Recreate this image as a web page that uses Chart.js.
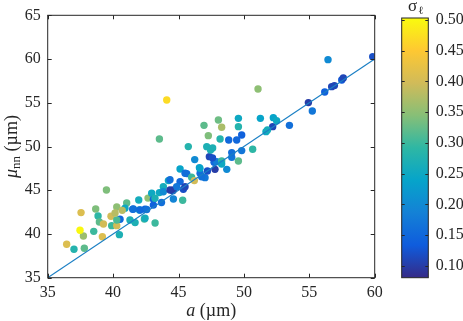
<!DOCTYPE html>
<html>
<head>
<meta charset="utf-8">
<script src="https://cdn.jsdelivr.net/npm/chart.js@4"></script>
<style>
  html, body { margin: 0; padding: 0; background: #fff; }
  #wrap { width: 463px; height: 321px; }
</style>
</head>
<body>
<div id="wrap"><canvas id="myChart" width="463" height="321"></canvas></div>
<script>
// a (um), mu_nn (um), sigma_l for each particle
const aVals = [36.45, 37.01, 37.80, 37.73, 37.47, 37.55, 38.52, 38.67, 38.85, 38.95,
  39.18, 39.26, 39.49, 39.84, 39.89, 40.28, 40.28, 40.48, 40.53, 40.28,
  40.15, 41.04, 40.91, 41.29, 41.50, 41.68, 41.96, 42.01, 42.39, 42.44,
  42.67, 42.95, 43.21, 43.08, 43.54, 43.54, 43.70, 43.84, 44.10, 44.23,
  44.35, 44.56, 44.61, 45.12, 45.12, 45.32, 45.37, 45.63, 45.75, 46.00,
  46.21, 46.24, 46.60, 46.65, 46.95, 47.03, 47.16, 47.21, 47.28, 47.36,
  47.45, 47.61, 47.72, 47.79, 47.92, 48.05, 48.18, 48.30, 48.30, 48.69,
  48.84, 49.07, 49.07, 49.45, 49.58, 49.58, 49.58, 49.83, 49.83, 50.67,
  51.08, 51.26, 51.69, 52.20, 52.25, 52.50, 53.48, 54.93, 55.23, 56.18,
  56.43, 56.71, 56.92, 57.48, 57.60, 59.85, 43.84, 44.60, 41.55, 42.06,
  42.57, 43.08, 42.44, 45.50, 46.64, 46.77, 48.30, 44.86, 45.50, 44.35,
  40.70, 47.60, 51.80, 43.20];
const muVals = [38.82, 38.25, 38.36, 39.77, 40.42, 42.44, 40.30, 42.86, 42.06, 41.37,
  39.69, 41.14, 45.03, 42.02, 40.95, 43.09, 40.95, 39.92, 41.68, 41.60,
  42.40, 43.55, 42.95, 41.60, 42.82, 41.30, 43.89, 42.74, 41.71, 42.82,
  44.10, 44.65, 41.26, 43.96, 50.86, 44.73, 43.60, 45.41, 55.32, 46.10,
  46.20, 44.95, 44.00, 45.98, 47.43, 43.85, 45.10, 46.90, 49.99, 46.48,
  46.10, 48.50, 47.58, 46.94, 52.42, 46.44, 49.98, 47.20, 51.24, 48.84,
  49.60, 49.83, 48.20, 47.39, 48.27, 53.03, 50.86, 52.20, 48.35, 47.39,
  50.75, 48.76, 49.30, 50.75, 53.22, 52.27, 48.35, 51.31, 49.53, 49.68,
  56.58, 53.22, 51.70, 52.27, 53.30, 52.95, 52.42, 55.02, 54.06, 56.23,
  59.93, 56.84, 56.96, 57.61, 57.84, 60.27, 44.83, 45.03, 42.86, 42.74,
  42.80, 43.30, 41.80, 46.94, 47.50, 46.55, 48.00, 45.40, 45.40, 45.03,
  42.70, 48.70, 51.90, 44.08];
const sigVals = [0.41, 0.28, 0.32, 0.36, 0.50, 0.41, 0.30, 0.34, 0.29, 0.32,
  0.41, 0.40, 0.34, 0.40, 0.30, 0.35, 0.40, 0.27, 0.15, 0.31,
  0.38, 0.32, 0.25, 0.27, 0.15, 0.27, 0.26, 0.25, 0.30, 0.14,
  0.35, 0.25, 0.30, 0.14, 0.32, 0.25, 0.16, 0.26, 0.47, 0.25,
  0.16, 0.12, 0.19, 0.15, 0.24, 0.30, 0.12, 0.16, 0.28, 0.30,
  0.40, 0.20, 0.23, 0.16, 0.32, 0.17, 0.27, 0.12, 0.34, 0.11,
  0.27, 0.27, 0.15, 0.10, 0.18, 0.33, 0.28, 0.37, 0.30, 0.20,
  0.15, 0.17, 0.16, 0.15, 0.25, 0.28, 0.32, 0.14, 0.17, 0.29,
  0.35, 0.24, 0.25, 0.11, 0.24, 0.25, 0.16, 0.10, 0.17, 0.14,
  0.20, 0.11, 0.11, 0.13, 0.11, 0.12, 0.20, 0.10, 0.16, 0.15,
  0.16, 0.14, 0.26, 0.16, 0.24, 0.16, 0.25, 0.17, 0.11, 0.10,
  0.38, 0.12, 0.26, 0.27];

// reference line a = mu_nn
const lineX = [35, 60];
const lineY = [35, 60];

const xTicks = [35, 40, 45, 50, 55, 60];
const yTicks = [35, 40, 45, 50, 55, 60, 65];
const cbTicks = [0.10, 0.15, 0.20, 0.25, 0.30, 0.35, 0.40, 0.45, 0.50];
const cMin = 0.0805, cMax = 0.5033;

// parula-ish colormap
const parula = ['#352a87', '#0f5cdd', '#1481d6', '#06a4ca', '#2eb7a4', '#87bf77', '#d1bb59', '#fec832', '#f9fb0e'];

function hexRgb(h) {
  return [parseInt(h.slice(1, 3), 16), parseInt(h.slice(3, 5), 16), parseInt(h.slice(5, 7), 16)];
}
function cmap(v) {
  let t = (v - cMin) / (cMax - cMin);
  t = Math.max(0, Math.min(1, t));
  const f = t * (parula.length - 1);
  const i = Math.min(parula.length - 2, Math.floor(f));
  const u = f - i;
  const a = hexRgb(parula[i]), b = hexRgb(parula[i + 1]);
  const c = a.map((k, j) => Math.round(k + (b[j] - k) * u));
  return 'rgb(' + c.join(',') + ')';
}

const axisColor = '#262626';
const serif = '"Liberation Serif", "Times New Roman", serif';

// no extra label padding around the axes, the sizes are fixed below
function noPad(s) {
  s.paddingTop = 0; s.paddingBottom = 0; s.paddingLeft = 0; s.paddingRight = 0;
}

const extras = {
  id: 'extras',
  afterDraw(chart) {
    const ctx = chart.ctx;
    const ca = chart.chartArea;
    const xs = chart.scales.x, ys = chart.scales.y, cb = chart.scales.cb;
    ctx.save();
    // box + inward ticks
    ctx.strokeStyle = axisColor;
    ctx.lineWidth = 1;
    ctx.strokeRect(ca.left, ca.top, ca.right - ca.left, ca.bottom - ca.top);
    ctx.beginPath();
    xTicks.forEach(v => {
      const p = Math.round(xs.getPixelForValue(v)) + 0.5;
      ctx.moveTo(p, ca.bottom); ctx.lineTo(p, ca.bottom - 4);
      ctx.moveTo(p, ca.top); ctx.lineTo(p, ca.top + 4);
    });
    yTicks.forEach(v => {
      const p = Math.round(ys.getPixelForValue(v)) + 0.5;
      ctx.moveTo(ca.left, p); ctx.lineTo(ca.left + 4, p);
      ctx.moveTo(ca.right, p); ctx.lineTo(ca.right - 4, p);
    });
    ctx.stroke();

    // colorbar
    const bx = cb.left + 27, bw = 26.6;
    const bTop = cb.getPixelForValue(cMax), bBot = cb.getPixelForValue(cMin);
    const g = ctx.createLinearGradient(0, bBot, 0, bTop);
    parula.forEach((c, i) => g.addColorStop(i / (parula.length - 1), c));
    ctx.fillStyle = g;
    ctx.fillRect(bx, bTop, bw, bBot - bTop);
    ctx.strokeRect(bx, bTop, bw, bBot - bTop);
    ctx.beginPath();
    cbTicks.forEach(v => {
      const p = Math.round(cb.getPixelForValue(v)) + 0.5;
      ctx.moveTo(bx + bw, p); ctx.lineTo(bx + bw - 3, p);
      ctx.moveTo(bx, p); ctx.lineTo(bx + 3, p);
    });
    ctx.stroke();

    // axis titles
    ctx.fillStyle = axisColor;
    ctx.textBaseline = 'alphabetic';
    // x title: "a (µm)" with italic a
    const xMid = (ca.left + ca.right) / 2;
    ctx.font = 'italic 18px ' + serif;
    const wA = ctx.measureText('a').width;
    ctx.font = '18px ' + serif;
    const rest = ' (\u00b5m)';
    const wR = ctx.measureText(rest).width;
    let x0 = xMid - (wA + wR) / 2;
    const yBase = 316;
    ctx.font = 'italic 18px ' + serif;
    ctx.fillText('a', x0, yBase);
    ctx.font = '18px ' + serif;
    ctx.fillText(rest, x0 + wA, yBase);

    // y title: "µnn (µm)" rotated
    ctx.save();
    ctx.translate(17, (ca.top + ca.bottom) / 2);
    ctx.rotate(-Math.PI / 2);
    ctx.font = 'italic 18px ' + serif;
    const wMu = ctx.measureText('\u03bc').width;
    ctx.font = '13px ' + serif;
    const wSub = ctx.measureText('nn').width;
    ctx.font = '18px ' + serif;
    const wY = ctx.measureText(rest).width;
    let y0 = -(wMu + wSub + wY) / 2;
    ctx.font = 'italic 18px ' + serif;
    ctx.fillText('\u03bc', y0, 0);
    ctx.font = '13px ' + serif;
    ctx.fillText('nn', y0 + wMu, 3);
    ctx.font = '18px ' + serif;
    ctx.fillText(rest, y0 + wMu + wSub, 0);
    ctx.restore();

    // colorbar title sigma_l
    ctx.font = '17px ' + serif;
    ctx.fillText('\u03c3', 408, 11);
    ctx.font = '11px ' + serif;
    ctx.fillText('\u2113', 418, 14);
    ctx.restore();
  }
};

const ctx = document.getElementById('myChart').getContext('2d');
const myChart = new Chart(ctx, {
  type: 'scatter',
  data: {
    datasets: [
      {
        type: 'line',
        data: lineX.map((x, i) => ({ x: x, y: lineY[i] })),
        borderColor: '#1a7fc4',
        borderWidth: 1.2,
        pointRadius: 0,
        fill: false
      },
      {
        data: aVals.map((a, i) => ({ x: a, y: muVals[i] })),
        backgroundColor: sigVals.map(cmap),
        pointRadius: 3.7,
        pointHoverRadius: 3.7,
        borderWidth: 0
      }
    ]
  },
  plugins: [extras],
  options: {
    responsive: false,
    animation: false,
    layout: { padding: { top: 15.3, left: 0, right: 0, bottom: 0 } },
    plugins: { legend: { display: false }, tooltip: { enabled: false } },
    scales: {
      x: {
        type: 'linear', min: 35, max: 60,
        grid: { display: false, drawTicks: false },
        border: { display: false },
        afterBuildTicks: s => { s.ticks = xTicks.map(v => ({ value: v })); },
        afterFit: s => { s.height = 43.3; noPad(s); },
        ticks: { color: axisColor, padding: 5, font: { family: serif, size: 16 }, maxRotation: 0 }
      },
      y: {
        type: 'linear', min: 35, max: 65,
        grid: { display: false, drawTicks: false },
        border: { display: false },
        afterBuildTicks: s => { s.ticks = yTicks.map(v => ({ value: v })); },
        afterFit: s => { s.width = 47.7; noPad(s); },
        ticks: { color: axisColor, padding: 7, font: { family: serif, size: 16 } }
      },
      cb: {
        type: 'linear', position: 'right', min: cMin, max: cMax + 2.7 / 614,
        grid: { display: false, drawTicks: false },
        border: { display: false },
        afterBuildTicks: s => { s.ticks = cbTicks.map(v => ({ value: v })); },
        afterFit: s => { s.width = 88.3; noPad(s); },
        ticks: { color: axisColor, padding: 61, font: { family: serif, size: 16 },
          callback: v => v.toFixed(2) }
      }
    }
  }
});
</script>
</body>
</html>
